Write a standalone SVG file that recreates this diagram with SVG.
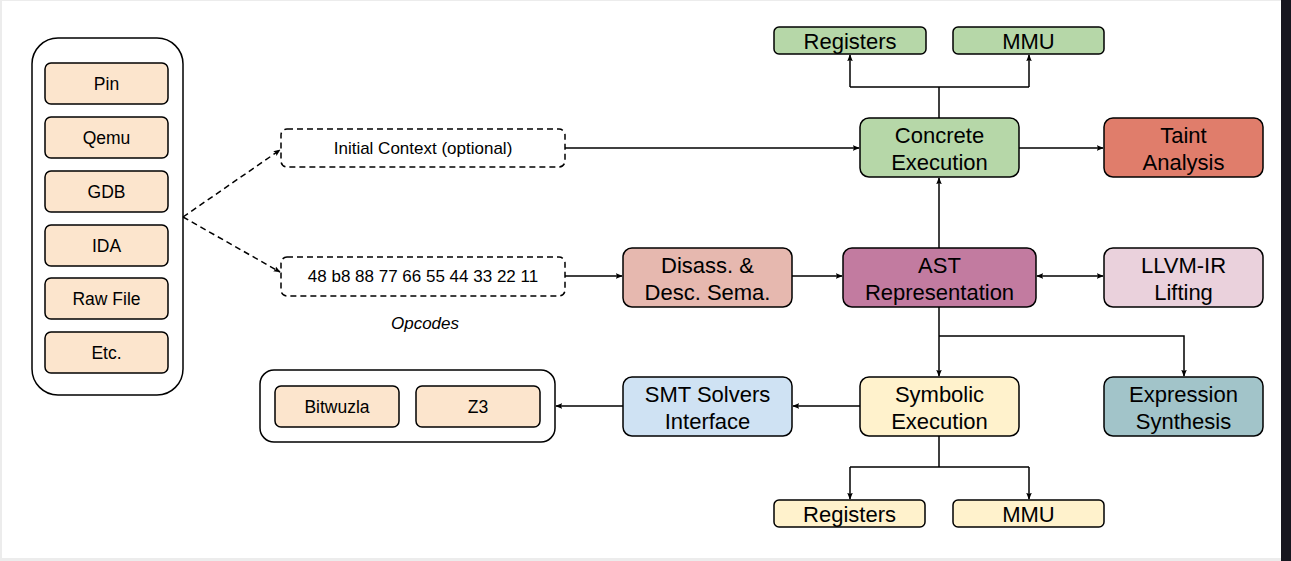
<svg xmlns="http://www.w3.org/2000/svg" width="1291" height="561" viewBox="0 0 1291 561">
<defs>
<style>
.n{stroke:#000;stroke-width:1.5}
.t{font-family:"Liberation Sans",Arial,sans-serif;fill:#000;text-anchor:middle}
.s16{font-size:17.5px}
.s15{font-size:17px}
.s20{font-size:22px}
.c{fill:none;stroke:#000;stroke-width:1.5}
.d{stroke-dasharray:6 4}
</style>
<marker id="ar" viewBox="0 0 10 10" refX="9" refY="5" markerWidth="7" markerHeight="7" orient="auto-start-reverse" markerUnits="userSpaceOnUse">
<path d="M0,1 L10,5 L0,9 L2,5 Z" fill="#000"/>
</marker>
</defs>
<rect x="0" y="0" width="1291" height="561" fill="#ececec"/>
<rect x="2" y="1" width="1279" height="557" fill="#fff"/>
<rect x="1281" y="0" width="10" height="561" fill="#17161f"/>

<g id="sources">
<rect class="n" x="32" y="38" width="151" height="357" rx="26" fill="#fff"/>
<g id="pin"><rect class="n" x="45" y="63" width="123" height="41" rx="6" fill="#fce5cd"/><text class="t s16" x="106.5" y="90">Pin</text></g>
<g id="qemu"><rect class="n" x="45" y="117" width="123" height="41" rx="6" fill="#fce5cd"/><text class="t s16" x="106.5" y="144">Qemu</text></g>
<g id="gdb"><rect class="n" x="45" y="171" width="123" height="41" rx="6" fill="#fce5cd"/><text class="t s16" x="106.5" y="198">GDB</text></g>
<g id="ida"><rect class="n" x="45" y="225" width="123" height="41" rx="6" fill="#fce5cd"/><text class="t s16" x="106.5" y="252">IDA</text></g>
<g id="rawfile"><rect class="n" x="45" y="278" width="123" height="41" rx="6" fill="#fce5cd"/><text class="t s16" x="106.5" y="305">Raw File</text></g>
<g id="etc"><rect class="n" x="45" y="332" width="123" height="41" rx="6" fill="#fce5cd"/><text class="t s16" x="106.5" y="359">Etc.</text></g>
</g>

<g id="initctx"><rect class="n d" x="281" y="129" width="284" height="38" rx="6" fill="#fff"/><text class="t s15" x="423" y="154">Initial Context (optional)</text></g>
<g id="opcodes"><rect class="n d" x="281" y="257" width="284" height="39" rx="6" fill="#fff"/><text class="t s15" x="423" y="282">48 b8 88 77 66 55 44 33 22 11</text></g>
<text class="t s15" x="425" y="329" font-style="italic">Opcodes</text>

<g id="disass"><rect class="n" x="623" y="248" width="169" height="59" rx="9" fill="#e6b8af"/><text class="t s20" x="707.5" y="273">Disass. &amp;</text><text class="t s20" x="707.5" y="300">Desc. Sema.</text></g>
<g id="ast"><rect class="n" x="843" y="248" width="193" height="59" rx="9" fill="#c27ba0"/><text class="t s20" x="939.5" y="273">AST</text><text class="t s20" x="939.5" y="300">Representation</text></g>
<g id="llvm"><rect class="n" x="1104" y="248" width="159" height="59" rx="9" fill="#ead1dc"/><text class="t s20" x="1183.5" y="273">LLVM-IR</text><text class="t s20" x="1183.5" y="300">Lifting</text></g>

<g id="concrete"><rect class="n" x="860" y="118" width="159" height="59" rx="9" fill="#b6d7a8"/><text class="t s20" x="939.5" y="143">Concrete</text><text class="t s20" x="939.5" y="170">Execution</text></g>
<g id="taint"><rect class="n" x="1104" y="118" width="159" height="59" rx="9" fill="#e07d6b"/><text class="t s20" x="1183.5" y="143">Taint</text><text class="t s20" x="1183.5" y="170">Analysis</text></g>
<g id="regs-top"><rect class="n" x="774" y="27" width="152" height="27" rx="5" fill="#b6d7a8"/><text class="t s20" x="850" y="49">Registers</text></g>
<g id="mmu-top"><rect class="n" x="953" y="27" width="151" height="27" rx="5" fill="#b6d7a8"/><text class="t s20" x="1028.5" y="49">MMU</text></g>

<g id="symbolic"><rect class="n" x="860" y="377" width="159" height="59" rx="9" fill="#fff2cc"/><text class="t s20" x="939.5" y="402">Symbolic</text><text class="t s20" x="939.5" y="429">Execution</text></g>
<g id="smt"><rect class="n" x="623" y="377" width="169" height="59" rx="9" fill="#cfe2f3"/><text class="t s20" x="707.5" y="402">SMT Solvers</text><text class="t s20" x="707.5" y="429">Interface</text></g>
<g id="exprsyn"><rect class="n" x="1104" y="377" width="159" height="59" rx="9" fill="#a2c4c9"/><text class="t s20" x="1183.5" y="402">Expression</text><text class="t s20" x="1183.5" y="429">Synthesis</text></g>
<g id="regs-bot"><rect class="n" x="774" y="500" width="151" height="27" rx="5" fill="#fff2cc"/><text class="t s20" x="849.5" y="522">Registers</text></g>
<g id="mmu-bot"><rect class="n" x="953" y="500" width="151" height="27" rx="5" fill="#fff2cc"/><text class="t s20" x="1028.5" y="522">MMU</text></g>

<g id="solvers">
<rect class="n" x="260" y="370" width="295" height="72" rx="14" fill="#fff"/>
<g id="bitwuzla"><rect class="n" x="275" y="386" width="124" height="41" rx="6" fill="#fce5cd"/><text class="t s16" x="337" y="413">Bitwuzla</text></g>
<g id="z3"><rect class="n" x="416" y="386" width="124" height="41" rx="6" fill="#fce5cd"/><text class="t s16" x="478" y="413">Z3</text></g>
</g>

<g id="connectors">
<path class="c d" d="M183,217 L280,150" marker-end="url(#ar)"/>
<path class="c d" d="M183,217 L280,272" marker-end="url(#ar)"/>
<path class="c" d="M565,148 L859,148" marker-end="url(#ar)"/>
<path class="c" d="M1019,148 L1103,148" marker-end="url(#ar)"/>
<path class="c" d="M939,118 L939,87 M850,87 L1029,87"/>
<path class="c" d="M850,87 L850,55" marker-end="url(#ar)"/>
<path class="c" d="M1029,87 L1029,55" marker-end="url(#ar)"/>
<path class="c" d="M565,276 L622,276" marker-end="url(#ar)"/>
<path class="c" d="M792,276 L842,276" marker-end="url(#ar)"/>
<path class="c" d="M1037,276 L1103,276" marker-start="url(#ar)" marker-end="url(#ar)"/>
<path class="c" d="M939,248 L939,178" marker-end="url(#ar)"/>
<path class="c" d="M939,307 L939,376" marker-end="url(#ar)"/>
<path class="c" d="M939,336 L1184,336 L1184,376" marker-end="url(#ar)"/>
<path class="c" d="M860,406 L793,406" marker-end="url(#ar)"/>
<path class="c" d="M623,406 L556,406" marker-end="url(#ar)"/>
<path class="c" d="M939,436 L939,467 M850,467 L1029,467"/>
<path class="c" d="M850,467 L850,499" marker-end="url(#ar)"/>
<path class="c" d="M1029,467 L1029,499" marker-end="url(#ar)"/>
</g>
</svg>
